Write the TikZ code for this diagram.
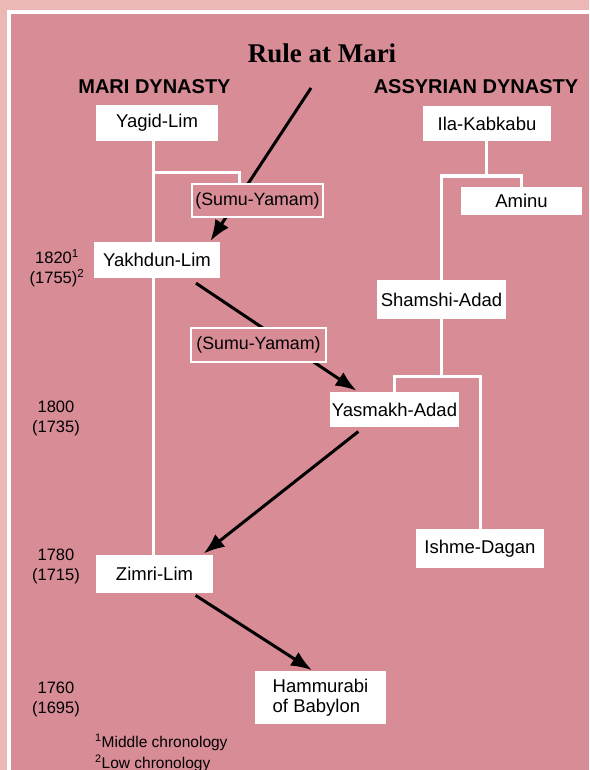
\documentclass[tikz,border=0pt]{standalone}
\usepackage{fontspec}
\setmainfont{Liberation Sans}
\newfontfamily\titlefont{Liberation Serif}
\usetikzlibrary{arrows.meta,backgrounds}
\definecolor{panel}{RGB}{215,140,150}
\definecolor{paper}{RGB}{235,184,182}
\tikzset{ruler/.style={fill=white,inner sep=0pt,minimum height=36pt,font=\fontsize{18.5}{19.5}\selectfont},
 regent/.style={fill=panel,draw=white,line width=2.5pt,inner sep=0pt,minimum height=33pt,font=\fontsize{17.8}{19.5}\selectfont},
 head/.style={font=\bfseries\fontsize{20}{24}\selectfont},
 date/.style={align=center,inner sep=0pt,font=\fontsize{16.5}{20}\selectfont},
 note/.style={inner sep=0pt,font=\fontsize{15.5}{18}\selectfont},
 branch/.style={white,line width=3pt},
 pointer/.style={-{Latex[length=21pt,width=16pt]},line width=3pt}}

\begin{document}
\begin{tikzpicture}[x=1pt,y=-1pt]
 \useasboundingbox (0,0) rectangle (589,770);
 \begin{scope}[on background layer]
  \fill[paper] (0,0) rectangle (589,770);
  \fill[panel] (9,12) rectangle (589,770);
  \draw[white,line width=3.5pt] (9,770) -- (9,12) -- (589,12);
 \end{scope}
 % headings
 \node[font=\titlefont\bfseries\fontsize{27}{30}\selectfont] (title) at (322,53.5) {Rule at Mari};
 \node[head] (mariHead) at (154.5,87) {MARI DYNASTY};
 \node[head] (assurHead) at (476,87) {ASSYRIAN DYNASTY};
 % rulers
 \node[ruler,minimum width=122pt] (yagid) at (157,123) {Yagid-Lim};
 \node[ruler,minimum width=128pt,minimum height=35pt] (ila) at (487,123.5) {Ila-Kabkabu};
 \node[ruler,minimum width=121pt,minimum height=28pt] (aminu) at (521.5,201) {Aminu};
 \node[regent,minimum width=131pt] (sumuA) at (257.5,200.5) {(Sumu-Yamam)};
 \node[ruler,minimum width=126pt] (yakhdun) at (157,260) {Yakhdun-Lim};
 \node[ruler,minimum width=129pt,minimum height=39pt] (shamshi) at (441.5,299.5) {Shamshi-Adad};
 \node[regent,minimum width=135pt,minimum height=34pt] (sumuB) at (258.5,345) {(Sumu-Yamam)};
 \node[ruler,minimum width=129pt,minimum height=35pt] (yasmakh) at (394.5,409.5) {Yasmakh-Adad};
 \node[ruler,minimum width=128pt,minimum height=39pt] (ishme) at (480,548.5) {Ishme-Dagan};
 \node[ruler,minimum width=117pt,minimum height=38pt] (zimri) at (154.5,574) {Zimri-Lim};
 \node[ruler,minimum width=131pt,minimum height=53pt,align=left] (hammurabi) at (320.5,697.5) {Hammurabi\\of Babylon};
 % dates
 \node[date] (d1820) at (57,268) {1820\textsuperscript{1}\\(1755)\textsuperscript{2}};
 \node[date] (d1800) at (56,418) {1800\\(1735)};
 \node[date] (d1780) at (56,566) {1780\\(1715)};
 \node[date] (d1760) at (56,699) {1760\\(1695)};
 \node[note,anchor=base west] (fnMiddle) at (95,747) {\textsuperscript{1}Middle chronology};
 \node[note,anchor=base west] (fnLow) at (95,768) {\textsuperscript{2}Low chronology};
 % family lines and arrows
 \coordinate (mariFork) at (153,173);
 \coordinate (mariTwig) at (239,173);
 \coordinate (assurFork) at (486,176);
 \coordinate (shamFork) at (441,376);
 \coordinate (titleTip) at (311,88);
 \begin{scope}[on background layer]
  \draw[branch] (mariFork |- yagid.south) -- (mariFork |- zimri.north);
  \draw[branch] (mariFork) -- (mariTwig) -- (mariTwig |- sumuA.north);
  \draw[branch] (assurFork |- ila.south) -- (assurFork);
  \draw[branch] (shamshi.north) |- (assurFork) -| (aminu.north);
  \draw[branch] (shamFork |- shamshi.south) -- (shamFork);
  \draw[branch] (yasmakh.north) |- (shamFork) -| (ishme.north);
  \draw[pointer,shorten >=1pt] (titleTip) -- (yakhdun.19);
  \draw[pointer,shorten <=9pt,shorten >=2pt] (yakhdun.-30) -- (yasmakh.154);
  \draw[pointer,shorten <=7pt,shorten >=2pt] (yasmakh.210) -- (zimri.22);
  \draw[pointer,shorten <=4pt,shorten >=1pt] (zimri.-27) -- (hammurabi.106);
 \end{scope}
\end{tikzpicture}
\end{document}
